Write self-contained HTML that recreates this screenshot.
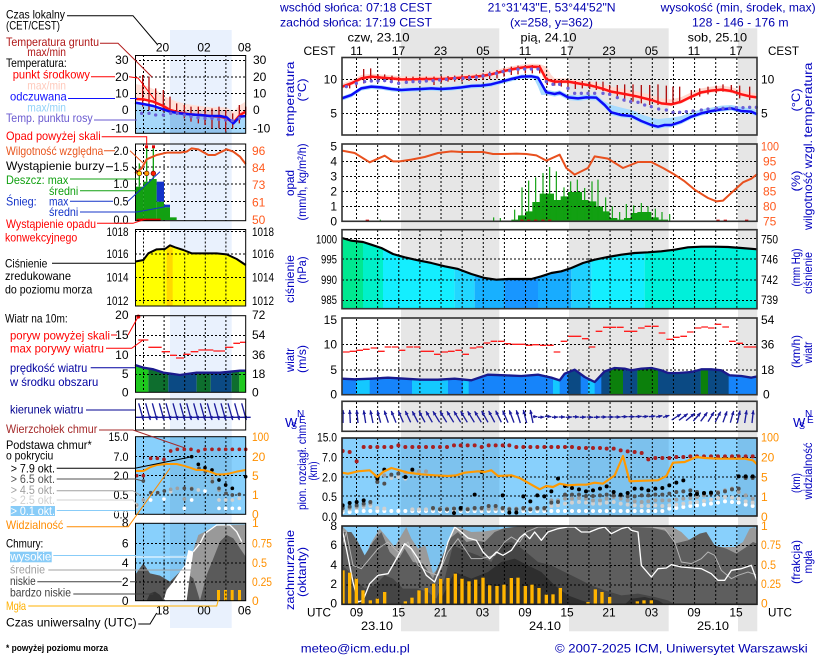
<!DOCTYPE html>
<html><head><meta charset="utf-8"><style>
html,body{margin:0;padding:0;background:#fff;}
svg{display:block;}
text{font-family:"Liberation Sans",Arial,sans-serif;}
</style></head><body>
<svg width="820" height="660" viewBox="0 0 820 660" xmlns="http://www.w3.org/2000/svg" font-size="12">
<defs>
<marker id="ah" markerUnits="userSpaceOnUse" markerWidth="13" markerHeight="13" refX="12" refY="6.5" orient="auto"><path d="M0,1 L13,6.5 L0,12 z" fill="#1c1c9c"/></marker>
<clipPath id="pclip"><path d="M12,300 L40,308 L75,312 L100,320 L130,330 L165,348 L200,358 L240,367 L280,375 L320,385 L360,393 L400,408 L440,420 L475,425 L510,423 L545,423 L580,423 L610,415 L640,405 L670,400 L700,390 L735,375 L770,365 L810,357 L850,350 L890,345 L930,343 L970,340 L1010,335 L1050,328 L1090,326 L1130,326 L1170,327 L1210,330 L1258,334 L1258,512 L12,512 Z"/></clipPath>
<clipPath id="wclip"><path d="M12,200 L50,202 L100,200 L150,197 L200,200 L250,203 L300,203 L350,200 L400,205 L450,188 L500,190 L550,192 L600,188 L640,197 L665,205 L680,185 L710,173 L740,195 L770,210 L800,178 L830,168 L860,170 L880,175 L910,170 L940,168 L970,175 L990,183 L1020,183 L1060,180 L1090,172 L1120,172 L1150,175 L1175,190 L1210,192 L1240,197 L1258,193 L1258,248 L12,248 Z"/></clipPath>
<clipPath id="lpclip"><path d="M405,125 L430,120 L445,100 L470,88 L495,87 L510,76 L525,82 L550,90 L575,100 L610,100 L650,100 L680,103 L710,117 L737,135 L737,258 L405,258 Z"/></clipPath>
<clipPath id="lwclip"><path d="M405,435 L430,443 L460,448 L490,458 L520,462 L540,465 L560,462 L590,458 L620,458 L660,458 L690,455 L720,452 L737,452 L737,517 L405,517 Z"/></clipPath>
<clipPath id="ccclip"><rect x="12" y="282" width="1246" height="235"/></clipPath>
<clipPath id="cbclip"><rect x="12" y="18" width="1246" height="234"/></clipPath>
</defs>
<rect width="820" height="660" fill="#fff"/>
<!-- night bands -->
<rect x="170" y="30" width="61.7" height="598" fill="#e9f1fd"/>
<g fill="#e6e6e6">
<rect x="401" y="28.3" width="98.3" height="603"/>
<rect x="569" y="28.3" width="99.7" height="603"/>
<rect x="738" y="28.3" width="19.3" height="603"/>
</g>

<!-- HEADER -->
<g fill="#0000b0">
<text x="280" y="11.7" textLength="152" lengthAdjust="spacingAndGlyphs">wschód słońca: 07:18 CEST</text>
<text x="280" y="26.7" textLength="152" lengthAdjust="spacingAndGlyphs">zachód słońca: 17:19 CEST</text>
<text x="487.6" y="11.7" textLength="128" lengthAdjust="spacingAndGlyphs">21°31'43"E, 53°44'52"N</text>
<text x="510" y="26.7" textLength="83" lengthAdjust="spacingAndGlyphs">(x=258,  y=362)</text>
<text x="660.6" y="11.7" textLength="155" lengthAdjust="spacingAndGlyphs">wysokość (min, środek, max)</text>
<text x="692" y="26.7" textLength="96.6" lengthAdjust="spacingAndGlyphs">128 - 146 - 176 m</text>
</g>
<g fill="#000">
<text x="347.5" y="41.7" textLength="62" lengthAdjust="spacingAndGlyphs">czw, 23.10</text>
<text x="520.5" y="41.7" textLength="56" lengthAdjust="spacingAndGlyphs">pią, 24.10</text>
<text x="687.6" y="41.7" textLength="59.5" lengthAdjust="spacingAndGlyphs">sob, 25.10</text>
<text x="303.5" y="55" textLength="32" lengthAdjust="spacingAndGlyphs">CEST</text>
<text x="768" y="55" textLength="31" lengthAdjust="spacingAndGlyphs">CEST</text>
<g text-anchor="middle">
<text x="356.5" y="55">11</text><text x="398.5" y="55">17</text><text x="440.5" y="55">23</text><text x="483" y="55">05</text><text x="525" y="55">11</text><text x="567" y="55">17</text><text x="609" y="55">23</text><text x="651.5" y="55">05</text><text x="694" y="55">11</text><text x="736" y="55">17</text>
</g>
</g>

<!-- ============ MAIN TEMPERATURE ============ -->
<g transform="translate(338,55) scale(0.33333)">
<path fill="#ffd9d0" d="M12,86 L40,76 L70,60 L100,56 L130,59 L160,61 L190,64 L220,64 L250,63 L280,63 L310,63 L340,61 L370,59 L400,57 L430,54 L460,49 L490,41 L520,34 L550,29 L580,26 L605,27 L625,35 L640,60 L650,70 L690,70 L720,75 L760,80 L790,88 L820,95 L860,102 L900,110 L940,120 L970,130 L1000,133 L1030,126 L1060,112 L1090,100 L1120,95 L1150,92 L1180,96 L1210,106 L1240,113 L1258,115 L1258,133 L1240,131 L1210,124 L1180,114 L1150,110 L1120,113 L1090,118 L1060,131 L1030,146 L1000,154 L970,151 L940,141 L900,131 L860,123 L820,116 L790,106 L760,98 L720,91 L690,86 L650,86 L620,80 L605,42 L580,41 L550,44 L520,49 L490,56 L460,64 L430,69 L400,72 L370,74 L340,76 L310,78 L280,78 L250,78 L220,79 L190,79 L160,76 L130,74 L100,71 L70,76 L40,91 L12,101 Z"/>
<path fill="#a8dcff" d="M12,124 L40,114 L70,94 L100,89 L130,91 L160,96 L190,99 L220,97 L250,96 L280,94 L310,96 L340,94 L370,91 L400,87 L430,86 L460,82 L490,74 L520,66 L550,59 L580,58 L600,62 L625,104 L650,109 L665,106 L690,119 L720,122 L745,119 L775,120 L800,140 L820,150 L850,158 L880,165 L910,178 L940,188 L960,192 L980,190 L1000,188 L1030,183 L1060,172 L1090,163 L1120,158 L1150,152 L1180,150 L1210,156 L1240,160 L1258,166 L1258,185 L1240,177 L1210,175 L1180,167 L1150,170 L1120,175 L1090,182 L1060,192 L1030,207 L1000,217 L980,217 L960,222 L940,217 L910,205 L880,190 L850,187 L820,180 L800,158 L775,136 L745,135 L720,138 L690,135 L665,121 L650,125 L625,120 L610,120 L600,95 L590,75 L580,71 L550,72 L520,79 L490,87 L460,95 L430,99 L400,100 L370,104 L340,107 L310,109 L280,107 L250,109 L220,110 L190,112 L160,109 L130,104 L100,102 L70,107 L40,127 L12,137 Z"/>
</g>
<g stroke="#000" stroke-width="1" stroke-dasharray="2,2" fill="none">
<path d="M356.5,58v77m21.13,-77v77m21.13,-77v77m21.13,-77v77m21.13,-77v77m21.13,-77v77m21.13,-77v77m21.13,-77v77m21.13,-77v77m21.13,-77v77m21.13,-77v77m21.13,-77v77m21.13,-77v77m21.13,-77v77m21.13,-77v77m21.13,-77v77m21.13,-77v77m21.13,-77v77m21.13,-77v77"/>
<path d="M342,79.5H757M342,113.5H757"/>
</g>
<g transform="translate(338,55) scale(0.33333)" fill="none">
<path stroke="#b01010" stroke-width="4" d="M35,85V100M55,75V95M77,42V85M98,40V80M120,58V80M140,58V80M162,62V80M182,65V80M205,65V82M225,65V82M245,65V80M265,65V80M288,65V90M310,63V82M330,63V80M350,62V80M372,60V80M393,60V78M415,58V78M435,55V75M455,50V72M477,45V70M498,40V65M520,35V60M540,32V58M562,30V55M583,30V55M605,30V55M628,68V90M650,72V92M670,75V95M690,75V100M712,78V102M733,78V100M755,80V102M775,80V105M795,80V108M815,90V115M838,90V130M860,88V140M885,88V140M910,90V145M935,90V150M960,88V150M985,92V150M1005,95V150M1025,95V145M1060,105V135M1085,100V125M1110,95V118M1135,92V115M1155,88V110M1180,90V112M1205,92V130M1235,95V135"/>
<path stroke="#ff1414" stroke-width="7.5" stroke-linejoin="round" d="M12,95 L40,85 L70,70 L100,65 L130,68 L160,70 L190,73 L220,73 L250,72 L280,72 L310,72 L340,70 L370,68 L400,66 L430,63 L460,58 L490,50 L520,43 L550,38 L580,35 L605,36 L625,73 L650,80 L690,80 L720,85 L760,92 L790,100 L820,110 L860,117 L900,125 L940,135 L970,145 L1000,148 L1030,140 L1060,125 L1090,112 L1120,107 L1150,104 L1180,108 L1210,118 L1240,125 L1258,127"/>
<path stroke="#0c0cf8" stroke-width="7.5" stroke-linejoin="round" d="M12,130 L40,120 L70,100 L100,95 L130,97 L160,102 L190,105 L220,103 L250,102 L280,100 L310,102 L340,100 L370,97 L400,93 L430,92 L460,88 L490,80 L520,72 L550,65 L580,64 L600,68 L625,112 L650,117 L665,113 L690,127 L720,130 L745,127 L775,128 L800,150 L820,172 L850,180 L880,183 L910,198 L940,210 L960,215 L980,210 L1000,210 L1030,200 L1060,185 L1090,175 L1120,168 L1150,163 L1180,160 L1210,168 L1240,170 L1258,178"/>
<path stroke="#6b5fd8" stroke-width="10" stroke-linecap="round" d="M25,95h0M55,85h0M80,80h0M100,78h0M120,78h0M140,77h0M160,80h0M182,85h0M205,82h0M225,80h0M245,80h0M265,78h0M285,77h0M305,75h0M325,73h0M350,70h0M375,70h0M395,68h0M415,67h0M435,63h0M455,58h0M475,55h0M495,50h0M515,47h0M540,43h0M560,42h0M580,42h0M600,42h0M625,80h0M645,88h0M665,88h0M690,100h0M710,115h0M730,115h0M750,115h0M770,115h0M795,115h0M815,118h0M838,128h0M858,135h0M878,140h0M900,142h0M920,150h0M940,155h0M962,162h0M985,165h0M1005,172h0M1025,172h0M1045,170h0M1065,168h0M1090,165h0M1110,162h0M1135,160h0M1155,160h0M1175,160h0M1195,158h0M1215,158h0M1235,157h0M1255,157h0"/>
</g>
<rect x="342" y="57.5" width="415" height="77.5" fill="none" stroke="#333" stroke-width="1.6"/>

<!-- ============ MAIN PRECIP ============ -->
<g transform="translate(338,138) scale(0.33333)">
<path fill="#12a012" d="M520,250 V245 H540 V232 H562 V220 H583 V192 H605 V167 H648 V186 H668 V175 H690 V162 H732 V186 H752 V190 H775 V205 H795 V220 H815 V240 H838 V245 H858 V240 H878 V225 H898 V222 H940 V238 H962 V245 H990 V250 Z"/>
</g>
<g stroke="#000" stroke-width="1" stroke-dasharray="2,2" fill="none">
<path d="M356.5,145v76m21.13,-76v76m21.13,-76v76m21.13,-76v76m21.13,-76v76m21.13,-76v76m21.13,-76v76m21.13,-76v76m21.13,-76v76m21.13,-76v76m21.13,-76v76m21.13,-76v76m21.13,-76v76m21.13,-76v76m21.13,-76v76m21.13,-76v76m21.13,-76v76m21.13,-76v76m21.13,-76v76"/>
<path d="M342,161.5H757M342,176.5H757M342,191.5H757M342,206.5H757"/>
</g>
<g transform="translate(338,138) scale(0.33333)" fill="none">
<path stroke="#10a010" stroke-width="3.5" d="M127,245V250M467,238V250M487,240V250M530,215V250M552,148V250M572,128V250M593,118V250M615,105V250M635,87V250M655,100V250M678,148V250M698,130V250M718,125V250M740,150V250M762,130V250M780,125V250M803,178V250M823,205V250M845,222V250M865,198V250M887,202V250M910,195V250M930,205V250M952,212V250M972,222V250M995,228V250"/>
<path stroke="#e8501e" stroke-width="6" stroke-linejoin="round" d="M12,38 L50,45 L95,73 L140,53 L165,70 L185,70 L220,65 L260,57 L300,45 L340,40 L370,42 L400,42 L435,42 L465,48 L500,48 L535,47 L565,48 L595,52 L625,68 L665,50 L685,90 L710,110 L750,90 L770,55 L810,62 L855,90 L900,72 L940,72 L975,90 L1010,110 L1040,130 L1070,155 L1110,180 L1135,190 L1155,188 L1185,160 L1215,133 L1240,122 L1258,108"/>
<g fill="#e00000"><rect x="83" y="245" width="10" height="7"/><rect x="547" y="245" width="10" height="7"/><rect x="567" y="245" width="10" height="7"/><rect x="588" y="245" width="10" height="7"/><rect x="610" y="245" width="10" height="7"/><rect x="630" y="245" width="10" height="7"/><rect x="1135" y="245" width="10" height="7"/><rect x="1157" y="245" width="10" height="7"/><rect x="1221" y="245" width="10" height="7"/></g>
</g>
<rect x="342" y="144" width="415" height="77.3" fill="none" stroke="#333" stroke-width="1.6"/>

<!-- ============ MAIN PRESSURE ============ -->
<g transform="translate(338,138) scale(0.33333)">
<g clip-path="url(#pclip)">
<rect x="12" y="280" width="63" height="240" fill="#00e890"/>
<rect x="75" y="280" width="60" height="240" fill="#00f0c8"/>
<rect x="135" y="280" width="215" height="240" fill="#14eeff"/>
<rect x="350" y="280" width="60" height="240" fill="#22d6ff"/>
<rect x="410" y="280" width="90" height="240" fill="#18b0ff"/>
<rect x="500" y="280" width="100" height="240" fill="#1896ff"/>
<rect x="600" y="280" width="100" height="240" fill="#18acff"/>
<rect x="700" y="280" width="60" height="240" fill="#20d0ff"/>
<rect x="760" y="280" width="160" height="240" fill="#14eeff"/>
<rect x="920" y="280" width="338" height="240" fill="#00f0da"/>
</g>
</g>
<g stroke="#000" stroke-width="1" stroke-dasharray="2,2" fill="none">
<path d="M356.5,230v78m21.13,-78v78m21.13,-78v78m21.13,-78v78m21.13,-78v78m21.13,-78v78m21.13,-78v78m21.13,-78v78m21.13,-78v78m21.13,-78v78m21.13,-78v78m21.13,-78v78m21.13,-78v78m21.13,-78v78m21.13,-78v78m21.13,-78v78m21.13,-78v78m21.13,-78v78m21.13,-78v78"/>
<path d="M342,238.5H757M342,259H757M342,280H757M342,300.5H757"/>
</g>
<g transform="translate(338,138) scale(0.33333)" fill="none">
<path stroke="#000" stroke-width="6.5" stroke-linejoin="round" d="M12,300 L40,308 L75,312 L100,320 L130,330 L165,348 L200,358 L240,367 L280,375 L320,385 L360,393 L400,408 L440,420 L475,425 L510,423 L545,423 L580,423 L610,415 L640,405 L670,400 L700,390 L735,375 L770,365 L810,357 L850,350 L890,345 L930,343 L970,340 L1010,335 L1050,328 L1090,326 L1130,326 L1170,327 L1210,330 L1258,334"/>
</g>
<rect x="342" y="229.7" width="415" height="79" fill="none" stroke="#333" stroke-width="1.6"/>

<!-- ============ MAIN WIND ============ -->
<g transform="translate(338,312) scale(0.33333)">
<g clip-path="url(#wclip)">
<rect x="12" y="150" width="1246" height="100" fill="#1684fa"/>
<g fill="#14c8ff"><rect x="55" y="150" width="40" height="100"/><rect x="222" y="150" width="108" height="100"/><rect x="375" y="150" width="17" height="100"/><rect x="645" y="150" width="20" height="100"/><rect x="750" y="150" width="20" height="100"/></g>
<g fill="#0b4a84"><rect x="690" y="150" width="38" height="100"/><rect x="790" y="150" width="25" height="100"/><rect x="855" y="150" width="43" height="100"/><rect x="960" y="150" width="128" height="100"/><rect x="1110" y="150" width="62" height="100"/></g>
<g fill="#0c800c"><rect x="815" y="150" width="40" height="100"/><rect x="898" y="150" width="62" height="100"/><rect x="1088" y="150" width="22" height="100"/></g>
</g>
</g>
<g stroke="#000" stroke-width="1" stroke-dasharray="2,2" fill="none">
<path d="M356.5,319v76m21.13,-76v76m21.13,-76v76m21.13,-76v76m21.13,-76v76m21.13,-76v76m21.13,-76v76m21.13,-76v76m21.13,-76v76m21.13,-76v76m21.13,-76v76m21.13,-76v76m21.13,-76v76m21.13,-76v76m21.13,-76v76m21.13,-76v76m21.13,-76v76m21.13,-76v76m21.13,-76v76"/>
<path d="M342,344.5H757M342,370H757"/>
</g>
<g transform="translate(338,312) scale(0.33333)" fill="none">
<path stroke="#1a1a8c" stroke-width="7" stroke-linejoin="round" d="M12,200 L50,202 L100,200 L150,197 L200,200 L250,203 L300,203 L350,200 L400,205 L450,188 L500,190 L550,192 L600,188 L640,197 L665,205 L680,185 L710,173 L740,195 L770,210 L800,178 L830,168 L860,170 L880,175 L910,170 L940,168 L970,175 L990,183 L1020,183 L1060,180 L1090,172 L1120,172 L1150,175 L1175,190 L1210,192 L1240,197 L1258,193"/>
<path stroke="#ff1e1e" stroke-width="4" d="M15,120h20M35,118h20M55,115h20M75,112h20M98,108h20M120,118h20M140,105h20M162,105h20M182,115h20M205,105h20M227,105h20M248,118h20M268,118h20M288,127h20M310,120h20M330,118h20M352,115h20M373,127h20M395,108h20M415,105h20M437,93h20M458,88h20M480,88h20M500,95h20M522,97h20M542,97h20M563,100h20M583,98h20M605,100h20M627,100h20M647,120h20M668,88h20M690,73h20M710,73h20M732,80h20M752,105h20M773,58h20M795,46h20M815,46h20M837,46h20M858,58h20M878,58h20M900,48h20M920,43h20M942,43h20M962,63h20M985,82h20M1005,76h20M1027,73h20M1047,60h20M1070,48h20M1090,45h20M1110,48h20M1130,37h20M1153,45h20M1173,88h20M1195,94h20M1217,105h20M1237,105h20"/>
</g>
<rect x="342" y="318" width="415" height="76.7" fill="none" stroke="#333" stroke-width="1.6"/>

<!-- ============ MAIN WIND DIRECTION ============ -->
<g stroke="#000" stroke-width="1" stroke-dasharray="2,2" fill="none">
<path d="M356.5,402v29m21.13,-29v29m21.13,-29v29m21.13,-29v29m21.13,-29v29m21.13,-29v29m21.13,-29v29m21.13,-29v29m21.13,-29v29m21.13,-29v29m21.13,-29v29m21.13,-29v29m21.13,-29v29m21.13,-29v29m21.13,-29v29m21.13,-29v29m21.13,-29v29m21.13,-29v29m21.13,-29v29"/>
</g>
<g transform="translate(338,312) scale(0.33333)" fill="none" stroke="#1c1c9c" stroke-width="4" marker-end="url(#ah)">
<path d="M15,333L15,294"/><path d="M37,333L35,294"/><path d="M60,333L56,294"/><path d="M83,333L77,295"/><path d="M105,333L97,295"/><path d="M128,332L118,296"/><path d="M151,332L139,296"/><path d="M174,332L160,297"/><path d="M196,331L181,297"/><path d="M218,331L202,297"/><path d="M240,331L223,298"/><path d="M261,331L243,298"/><path d="M283,331L264,298"/><path d="M305,331L285,298"/><path d="M326,331L306,298"/><path d="M347,331L327,298"/><path d="M368,331L348,298"/><path d="M388,331L368,298"/><path d="M409,331L389,298"/><path d="M430,331L410,298"/><path d="M450,331L431,297"/><path d="M470,331L452,297"/><path d="M490,331L473,296"/><path d="M510,332L494,296"/><path d="M528,332L514,295"/><path d="M547,333L535,295"/><path d="M566,333L556,294"/><path d="M585,333L577,294"/>
<path d="M585,314L598,314" /><path d="M600,316L619,315"/><path d="M621,313L640,314"/><path d="M642,316L660,315"/><path d="M662,315L681,315"/><path d="M683,316L702,315"/><path d="M704,314L723,315"/><path d="M725,316L744,315"/><path d="M746,315L765,316"/><path d="M767,316L786,315"/><path d="M788,315L806,315"/><path d="M808,315L827,315"/><path d="M829,315L848,315"/><path d="M850,314L869,314"/><path d="M871,314L890,314"/><path d="M892,314L911,313"/><path d="M913,314L931,313"/><path d="M933,314L952,312"/><path d="M954,315L973,311"/><path d="M975,316L994,310"/>
<path d="M1001,324L1029,306"/><path d="M1023,325L1049,305"/><path d="M1044,326L1070,304"/><path d="M1066,327L1088,302"/><path d="M1088,328L1108,301"/><path d="M1110,329L1128,300"/><path d="M1132,330L1148,299"/><path d="M1155,331L1167,298"/><path d="M1177,332L1187,297"/><path d="M1198,333L1206,296"/><path d="M1220,333L1226,295"/><path d="M1242,333L1246,295"/>
</g>
<rect x="342" y="401.3" width="415" height="30" fill="none" stroke="#333" stroke-width="1.6"/>

<!-- ============ MAIN CLOUD BASE ============ -->
<g transform="translate(338,432) scale(0.33333)">
<rect x="12" y="18" width="1246" height="234" fill="#88d0fc"/>
<g fill="#002050" opacity="0.08"><rect x="189" y="18" width="295" height="234"/><rect x="693" y="18" width="299" height="234"/><rect x="1200" y="18" width="58" height="234"/></g>
</g>
<g stroke="#000" stroke-width="1" stroke-dasharray="2,2" fill="none">
<path d="M356.5,438v78m21.13,-78v78m21.13,-78v78m21.13,-78v78m21.13,-78v78m21.13,-78v78m21.13,-78v78m21.13,-78v78m21.13,-78v78m21.13,-78v78m21.13,-78v78m21.13,-78v78m21.13,-78v78m21.13,-78v78m21.13,-78v78m21.13,-78v78m21.13,-78v78m21.13,-78v78m21.13,-78v78"/>
<path d="M342,457.5H757M342,477H757M342,496H757"/>
</g>
<g transform="translate(338,432) scale(0.33333)" fill="none" stroke-linecap="round" clip-path="url(#cbclip)">
<path stroke="#ffffff" stroke-width="12" d="M14,240h0M35,240h0M56,238h0M77,237h0M97,237h0M118,237h0M139,237h0M160,237h0M181,237h0M202,237h0M223,237h0M243,237h0M264,237h0M285,237h0M306,237h0M327,237h0M348,237h0M368,237h0M389,237h0M410,237h0M431,237h0M452,237h0M473,237h0M494,237h0M514,237h0M535,237h0M556,237h0M577,237h0M598,237h0M619,237h0M640,237h0M660,237h0M681,237h0M702,237h0M723,237h0M744,237h0M765,237h0M786,237h0M806,237h0M827,237h0M848,237h0M869,237h0M890,237h0M911,237h0M931,237h0M952,237h0M973,237h0M994,230h0M1015,228h0M1036,225h0M1057,222h0M1077,220h0M1098,218h0M1119,215h0M1140,212h0M1161,208h0M1182,210h0M1202,212h0M1223,218h0M1244,222h0"/>
<path stroke="#d0d0d0" stroke-width="12" d="M14,235h0M35,232h0M56,228h0M77,225h0M97,222h0M118,228h0M139,230h0M160,138h0M181,135h0M202,140h0M223,232h0M243,232h0M264,232h0M285,232h0M306,232h0M327,232h0M348,232h0M368,232h0M389,232h0M410,232h0M431,232h0M452,232h0M473,232h0M494,232h0M514,232h0M535,232h0M556,232h0M577,232h0M598,232h0M619,232h0M640,222h0M660,220h0M681,215h0M702,212h0M723,210h0M744,212h0M765,215h0M786,215h0M806,212h0M827,210h0M848,215h0M869,218h0M890,220h0M911,222h0M931,222h0M952,220h0M973,222h0M994,220h0M1015,218h0M1036,215h0M1057,212h0M1077,210h0M1098,207h0M1119,203h0M1140,198h0M1161,195h0M1182,197h0M1202,200h0M1223,208h0M1244,212h0"/>
<path stroke="#a0a0a0" stroke-width="12" d="M14,230h0M35,228h0M56,225h0M77,220h0M97,215h0M118,148h0M139,130h0M160,130h0M181,125h0M202,122h0M223,120h0M243,118h0M264,118h0M285,230h0M306,230h0M327,230h0M348,230h0M368,230h0M389,230h0M410,230h0M431,230h0M452,230h0M473,230h0M494,230h0M514,230h0M535,230h0M556,230h0M577,230h0M598,230h0M619,230h0M640,205h0M660,205h0M681,200h0M702,200h0M723,198h0M744,200h0M765,205h0M786,205h0M806,200h0M827,195h0M848,200h0M869,205h0M890,208h0M911,210h0M931,208h0M952,205h0M973,205h0M994,205h0M1015,203h0M1036,200h0M1057,198h0M1077,195h0M1098,190h0M1119,185h0M1140,180h0M1161,175h0M1182,170h0M1202,180h0M1223,190h0M1244,200h0"/>
<path stroke="#505050" stroke-width="12" d="M14,228h0M35,224h0M56,220h0M77,215h0M97,210h0M118,150h0M139,155h0M160,128h0M181,125h0M285,228h0M306,232h0M327,232h0M348,230h0M368,232h0M389,232h0M410,228h0M431,228h0M452,222h0M473,222h0M494,228h0M514,232h0M535,232h0M556,228h0M577,232h0M598,228h0M619,228h0M640,212h0M660,210h0M681,188h0M702,188h0M723,188h0M744,192h0M765,192h0M786,190h0M806,188h0M827,190h0M848,190h0M869,193h0M890,193h0M911,190h0M931,190h0M952,188h0M973,188h0M994,185h0M1015,180h0M1036,178h0M1057,175h0M1077,180h0M1098,185h0M1119,185h0M1140,183h0M1161,178h0M1182,172h0M1202,170h0M1223,138h0M1244,138h0"/>
<path stroke="#000" stroke-width="12" d="M14,220h0M35,213h0M56,210h0M77,205h0M118,140h0M139,113h0M202,135h0M223,113h0M348,243h0M368,228h0M410,188h0M431,120h0M494,190h0M514,242h0M535,242h0M556,193h0M577,208h0M598,190h0M619,193h0M640,178h0M660,140h0M681,162h0M702,168h0M723,172h0M744,178h0M765,175h0M786,170h0M806,163h0M827,180h0M848,188h0M869,183h0M890,170h0M911,170h0M931,175h0M952,170h0M973,168h0M994,160h0M1015,152h0M1036,145h0M1057,188h0M1077,186h0M1098,183h0M1119,182h0M1202,133h0M1223,133h0M1244,133h0"/>
<path stroke="#a82020" stroke-width="12" d="M14,57h0M35,60h0M56,88h0M77,45h0M97,45h0M118,45h0M139,45h0M160,45h0M181,40h0M202,45h0M223,45h0M243,45h0M264,45h0M285,45h0M306,45h0M327,45h0M348,40h0M368,40h0M389,40h0M410,40h0M431,45h0M452,40h0M473,40h0M494,40h0M514,40h0M535,45h0M556,45h0M577,45h0M598,45h0M619,45h0M640,45h0M660,45h0M681,45h0M702,45h0M723,48h0M744,48h0M765,48h0M786,48h0M806,50h0M827,50h0M848,55h0M869,58h0M890,60h0M911,63h0M931,82h0M952,78h0M973,78h0M994,78h0M1015,75h0M1036,75h0M1057,73h0M1077,73h0M1098,73h0M1119,73h0M1140,73h0M1161,73h0M1182,73h0M1202,73h0M1223,73h0M1244,73h0"/>
<path stroke="#ff9900" stroke-width="6.5" stroke-linecap="butt" stroke-linejoin="round" d="M12,122 L30,125 L60,118 L95,115 L118,135 L135,120 L160,108 L185,115 L210,122 L250,127 L290,130 L330,132 L355,130 L380,122 L420,118 L440,120 L460,115 L480,132 L520,130 L545,138 L575,155 L605,172 L625,162 L645,165 L665,155 L690,160 L720,158 L745,158 L770,152 L795,155 L830,130 L855,72 L875,148 L920,146 L960,145 L985,132 L1005,92 L1040,90 L1075,75 L1100,78 L1140,80 L1180,80 L1220,80 L1245,85 L1258,98"/>
</g>
<rect x="342" y="438" width="415" height="78" fill="none" stroke="#222" stroke-width="1.6"/>

<!-- ============ MAIN CLOUD COVER ============ -->
<g transform="translate(338,432) scale(0.33333)">
<rect x="12" y="282" width="1246" height="235" fill="#88d0fc"/>
<g fill="#002050" opacity="0.08"><rect x="189" y="282" width="295" height="235"/><rect x="693" y="282" width="299" height="235"/><rect x="1200" y="282" width="58" height="235"/></g>
<g clip-path="url(#ccclip)">
<path fill="#9a9a9a" d="M12,517 L12,282 L30,300 L55,360 L75,400 L95,340 L125,290 L150,320 L170,345 L190,310 L205,285 L220,320 L240,350 L262,340 L285,425 L300,410 L320,360 L345,290 L360,285 L400,300 L440,298 L480,292 L520,286 L560,284 L600,283 L1000,283 L1030,300 L1060,330 L1100,340 L1150,345 L1190,345 L1215,330 L1235,290 L1250,285 L1258,300 L1258,517 Z"/>
<path fill="#5e5e5e" d="M12,517 L12,300 L40,300 L60,330 L80,370 L105,330 L130,300 L155,360 L180,385 L200,350 L225,390 L255,395 L285,440 L310,380 L335,320 L360,300 L385,330 L410,325 L440,330 L470,300 L500,288 L540,284 L600,284 L900,284 L940,287 L980,296 L1000,310 L1010,335 L1050,325 L1085,305 L1105,300 L1130,340 L1165,350 L1195,365 L1225,345 L1245,330 L1258,335 L1258,517 Z"/>
<path fill="#454545" d="M12,517 L12,400 L35,420 L55,445 L80,470 L110,460 L140,430 L165,440 L195,470 L240,470 L270,480 L295,500 L320,440 L345,340 L380,355 L420,370 L460,390 L490,335 L520,330 L545,345 L570,365 L600,390 L640,400 L680,420 L720,440 L760,460 L800,475 L850,490 L900,485 L950,495 L990,505 L1010,517 Z"/>
<path fill="#2e2e2e" d="M300,517 L320,480 L350,420 L400,440 L450,420 L490,390 L530,380 L570,400 L610,420 L650,460 L690,490 L730,505 L770,517 Z M860,517 L880,500 L920,495 L960,505 L980,517 Z"/>
</g>
</g>
<g stroke="#000" stroke-width="1" stroke-dasharray="2,2" fill="none">
<path d="M356.5,526v78m21.13,-78v78m21.13,-78v78m21.13,-78v78m21.13,-78v78m21.13,-78v78m21.13,-78v78m21.13,-78v78m21.13,-78v78m21.13,-78v78m21.13,-78v78m21.13,-78v78m21.13,-78v78m21.13,-78v78m21.13,-78v78m21.13,-78v78m21.13,-78v78m21.13,-78v78m21.13,-78v78"/>
<path d="M342,545.5H757M342,565.5H757M342,585H757"/>
</g>
<g transform="translate(338,432) scale(0.33333)" fill="none">
<path stroke="#b4b4b4" stroke-width="3" d="M12,340 L25,300 L45,400 L70,410 L95,380 L120,350 L150,330 L180,360 L210,330 L240,400 L270,420 L300,430 L330,360 L360,320 L400,380 L430,380 L470,370 L500,330 L520,315 L545,330 L565,300 L600,285 L900,284 L940,285 L980,290 L1010,330 L1030,390 L1060,395 L1090,380 L1110,360 L1130,370 L1150,415 L1180,440 L1200,430 L1230,420 L1258,430"/>
<path stroke="#ffffff" stroke-width="4" stroke-linejoin="round" d="M12,290 L25,350 L45,450 L60,510 L75,505 L95,455 L120,430 L150,425 L170,390 L200,335 L220,350 L240,380 L265,430 L290,450 L310,400 L330,330 L350,285 L370,300 L390,318 L415,325 L435,360 L455,380 L475,360 L495,370 L520,355 L545,318 L560,305 L575,320 L590,300 L610,325 L630,300 L660,290 L690,285 L710,285 L730,300 L755,300 L780,290 L800,285 L820,305 L850,290 L870,285 L880,295 L900,300 L910,400 L940,435 L960,410 L985,408 L1000,398 L1030,405 L1065,408 L1090,410 L1120,425 L1140,445 L1160,445 L1180,415 L1210,410 L1240,400 L1258,450"/>
<g fill="#ffb400"><rect x="10" y="415" width="10" height="102"/><rect x="30" y="422" width="10" height="95"/><rect x="50" y="440" width="10" height="77"/><rect x="70" y="475" width="10" height="42"/><rect x="92" y="505" width="10" height="12"/><rect x="113" y="500" width="10" height="17"/><rect x="135" y="480" width="10" height="37"/><rect x="197" y="508" width="10" height="9"/><rect x="217" y="497" width="10" height="20"/><rect x="238" y="475" width="10" height="42"/><rect x="260" y="468" width="10" height="49"/><rect x="282" y="455" width="10" height="62"/><rect x="303" y="440" width="10" height="77"/><rect x="325" y="438" width="10" height="79"/><rect x="347" y="425" width="10" height="92"/><rect x="367" y="440" width="10" height="77"/><rect x="388" y="448" width="10" height="69"/><rect x="408" y="443" width="10" height="74"/><rect x="430" y="437" width="10" height="80"/><rect x="450" y="460" width="10" height="57"/><rect x="472" y="462" width="10" height="55"/><rect x="493" y="458" width="10" height="59"/><rect x="515" y="438" width="10" height="79"/><rect x="535" y="437" width="10" height="80"/><rect x="557" y="462" width="10" height="55"/><rect x="577" y="458" width="10" height="59"/><rect x="598" y="468" width="10" height="49"/><rect x="620" y="488" width="10" height="29"/><rect x="640" y="487" width="10" height="30"/><rect x="662" y="468" width="10" height="49"/><rect x="745" y="510" width="10" height="7"/><rect x="767" y="472" width="10" height="45"/><rect x="787" y="480" width="10" height="37"/><rect x="810" y="495" width="10" height="22"/><rect x="893" y="508" width="10" height="9"/><rect x="913" y="505" width="10" height="12"/><rect x="935" y="505" width="10" height="12"/></g>
</g>
<rect x="342" y="526" width="415" height="78.3" fill="none" stroke="#222" stroke-width="1.6"/>

<!-- MAIN TICK LABELS -->
<g font-size="12" text-anchor="end" fill="#000">
<text x="337" y="83.5">10</text><text x="337" y="117.5">5</text>
<text x="337" y="150.5">5</text><text x="337" y="165.5">4</text><text x="337" y="180.5">3</text><text x="337" y="195.5">2</text><text x="337" y="210.5">1</text><text x="337" y="225.5">0</text>
<text x="337" y="243.5" textLength="21" lengthAdjust="spacingAndGlyphs">1000</text><text x="337" y="263.5" textLength="16" lengthAdjust="spacingAndGlyphs">995</text><text x="337" y="284" textLength="16" lengthAdjust="spacingAndGlyphs">990</text><text x="337" y="304" textLength="16" lengthAdjust="spacingAndGlyphs">985</text>
<text x="337" y="324">15</text><text x="337" y="348.5">10</text><text x="337" y="374">5</text><text x="337" y="398.5">0</text>
<text x="337" y="441.5" textLength="20" lengthAdjust="spacingAndGlyphs">15.0</text><text x="337" y="461.5" textLength="15" lengthAdjust="spacingAndGlyphs">7.0</text><text x="337" y="481.5" textLength="15" lengthAdjust="spacingAndGlyphs">2.0</text><text x="337" y="501" textLength="15" lengthAdjust="spacingAndGlyphs">0.5</text><text x="337" y="521" textLength="15" lengthAdjust="spacingAndGlyphs">0.0</text>
<text x="337" y="530">8</text><text x="337" y="549">6</text><text x="337" y="569">4</text><text x="337" y="588">2</text><text x="337" y="607.5">0</text>
</g>
<g font-size="12" fill="#000">
<text x="761" y="83.5">10</text><text x="761" y="117.5">5</text>
<text x="761" y="243.5" textLength="17" lengthAdjust="spacingAndGlyphs">750</text><text x="761" y="263.5" textLength="17" lengthAdjust="spacingAndGlyphs">746</text><text x="761" y="284" textLength="17" lengthAdjust="spacingAndGlyphs">742</text><text x="761" y="304" textLength="17" lengthAdjust="spacingAndGlyphs">739</text>
<text x="761" y="324">54</text><text x="761" y="348.5">36</text><text x="761" y="374">18</text><text x="763" y="398.5">0</text>
</g>
<g font-size="12" fill="#ff5a1e">
<text x="761" y="150.5" textLength="18" lengthAdjust="spacingAndGlyphs">100</text><text x="763" y="165.5">95</text><text x="763" y="180.5">90</text><text x="763" y="195.5">85</text><text x="763" y="210.5">80</text><text x="763" y="225.5">75</text>
</g>
<g font-size="12" fill="#ff9000">
<text x="761" y="441.5" textLength="18" lengthAdjust="spacingAndGlyphs">100</text><text x="761" y="461.5">20</text><text x="761" y="481.5">5</text><text x="761" y="501">1</text><text x="761" y="521">0</text>
<text x="761" y="530">1</text><text x="761" y="549" textLength="20" lengthAdjust="spacingAndGlyphs">0.75</text><text x="761" y="569" textLength="15" lengthAdjust="spacingAndGlyphs">0.5</text><text x="761" y="588" textLength="20" lengthAdjust="spacingAndGlyphs">0.25</text><text x="761" y="607.5">0</text>
</g>

<!-- MAIN AXIS TITLES (rotated) -->
<g fill="#0000c0" font-size="12" text-anchor="middle">
<text transform="translate(294,99) rotate(-90)" textLength="75" lengthAdjust="spacingAndGlyphs">temperatura</text>
<text transform="translate(306,90) rotate(-90)" textLength="23" lengthAdjust="spacingAndGlyphs">(°C)</text>
<text transform="translate(800,100) rotate(-90)" textLength="23" lengthAdjust="spacingAndGlyphs">(°C)</text>
<text transform="translate(812,100) rotate(-90)" textLength="75" lengthAdjust="spacingAndGlyphs">temperatura</text>
<text transform="translate(294,183) rotate(-90)" textLength="26" lengthAdjust="spacingAndGlyphs">opad</text>
<text transform="translate(306,182) rotate(-90)" textLength="77" lengthAdjust="spacingAndGlyphs">(mm/h, kg/m²/h)</text>
<text transform="translate(800,181) rotate(-90)" textLength="21" lengthAdjust="spacingAndGlyphs">(%)</text>
<text transform="translate(812,185) rotate(-90)" textLength="90" lengthAdjust="spacingAndGlyphs">wilgotność wzgl.</text>
<text transform="translate(294,279) rotate(-90)" textLength="48" lengthAdjust="spacingAndGlyphs">ciśnienie</text>
<text transform="translate(306,270) rotate(-90)" textLength="27" lengthAdjust="spacingAndGlyphs">(hPa)</text>
<text transform="translate(800,267.5) rotate(-90)" textLength="38" lengthAdjust="spacingAndGlyphs">(mm Hg)</text>
<text transform="translate(812,273) rotate(-90)" textLength="42" lengthAdjust="spacingAndGlyphs">ciśnienie</text>
<text transform="translate(294,360) rotate(-90)" textLength="24" lengthAdjust="spacingAndGlyphs">wiatr</text>
<text transform="translate(306,359) rotate(-90)" textLength="28" lengthAdjust="spacingAndGlyphs">(m/s)</text>
<text transform="translate(800,351.5) rotate(-90)" textLength="33" lengthAdjust="spacingAndGlyphs">(km/h)</text>
<text transform="translate(812,352.5) rotate(-90)" textLength="22" lengthAdjust="spacingAndGlyphs">wiatr</text>
<text transform="translate(306,466) rotate(-90)" textLength="88" lengthAdjust="spacingAndGlyphs">pion. rozciągł. chm.</text>
<text transform="translate(317,471) rotate(-90)" textLength="19" lengthAdjust="spacingAndGlyphs">(km)</text>
<text transform="translate(800,483) rotate(-90)" textLength="20" lengthAdjust="spacingAndGlyphs">(km)</text>
<text transform="translate(812,471) rotate(-90)" textLength="57" lengthAdjust="spacingAndGlyphs">widzialność</text>
<text transform="translate(294,570) rotate(-90)" textLength="80" lengthAdjust="spacingAndGlyphs">zachmurzenie</text>
<text transform="translate(306,572) rotate(-90)" textLength="50" lengthAdjust="spacingAndGlyphs">(oktanty)</text>
<text transform="translate(800,562) rotate(-90)" textLength="44" lengthAdjust="spacingAndGlyphs">(frakcja)</text>
<text transform="translate(812,562) rotate(-90)" textLength="23" lengthAdjust="spacingAndGlyphs">mgła</text>
</g>
<!-- compass glyphs -->
<g fill="#0000c0">
<text x="285" y="427" font-size="13">W</text><text x="297" y="417" font-size="10">N</text><text x="291" y="429" font-size="9">S</text><text x="299" y="423" font-size="10">E</text>
<text x="793" y="427" font-size="13">W</text><text x="805" y="417" font-size="10">N</text><text x="799" y="429" font-size="9">S</text><text x="807" y="423" font-size="10">E</text>
</g>

<!-- BOTTOM UTC -->
<g fill="#000" font-size="12">
<text x="307" y="616.5" textLength="24" lengthAdjust="spacingAndGlyphs">UTC</text>
<text x="768" y="616.5" textLength="24" lengthAdjust="spacingAndGlyphs">UTC</text>
<g text-anchor="middle">
<text x="356.5" y="616.5">09</text><text x="398.5" y="616.5">15</text><text x="440.5" y="616.5">21</text><text x="482.5" y="616.5">03</text><text x="525" y="616.5">09</text><text x="567" y="616.5">15</text><text x="609" y="616.5">21</text><text x="651.5" y="616.5">03</text><text x="694" y="616.5">09</text><text x="736" y="616.5">15</text>
<text x="377" y="630" textLength="32" lengthAdjust="spacingAndGlyphs">23.10</text><text x="545" y="630" textLength="32" lengthAdjust="spacingAndGlyphs">24.10</text><text x="713" y="630" textLength="32" lengthAdjust="spacingAndGlyphs">25.10</text>
</g>
</g>
<!-- FOOTER -->
<g fill="#0000b0" font-size="12">
<text x="300.8" y="652.5" textLength="109" lengthAdjust="spacingAndGlyphs">meteo@icm.edu.pl</text>
<text x="555" y="652.5" textLength="252.7" lengthAdjust="spacingAndGlyphs">© 2007-2025 ICM, Uniwersytet Warszawski</text>
</g>

<!-- ================= LEFT LEGEND PANELS ================= -->
<!-- left temp -->
<g transform="scale(0.33333)">
<path fill="#ffe0d8" d="M405,252 L440,258 L470,272 L500,292 L530,305 L560,312 L600,318 L640,322 L680,322 L700,335 L720,315 L737,305 L737,335 L720,345 L700,368 L680,355 L640,348 L600,345 L560,342 L520,335 L490,318 L460,305 L430,298 L405,297 Z"/>
<path fill="#a6d8fa" d="M405,310 L430,314 L460,320 L490,330 L510,337 L540,342 L570,345 L600,347 L630,350 L660,350 L680,354 L700,372 L720,352 L737,350 L737,400 L405,400 Z"/>
<rect x="510" y="330" width="185" height="70" fill="#1a4aa0" opacity="0.14"/>
</g>
<g stroke="#000" stroke-width="1" stroke-dasharray="2,2" fill="none">
<path d="M143.5,55v78m20.6,-78v78m20.6,-78v78m20.6,-78v78m20.6,-78v78"/>
<path d="M135,60.5H246M135,77H246M135,93.5H246M135,110.5H246M135,128.5H246"/>
</g>
<g transform="scale(0.33333)" fill="none">
<path stroke="#b01010" stroke-width="4" d="M428,225V320M447,230V330M467,265V330M490,270V335M510,290V340M530,310V345M553,315V355M573,320V365M595,320V370M615,325V375M636,325V385M657,320V385M677,330V395M698,340V385M718,315V370M737,320V345"/>
<path stroke="#ff1414" stroke-width="7.5" stroke-linejoin="round" d="M405,297 L430,298 L460,305 L490,318 L510,330 L540,338 L570,343 L600,345 L630,348 L660,350 L680,355 L700,368 L720,345 L737,335"/>
<path stroke="#0c0cf8" stroke-width="7.5" stroke-linejoin="round" d="M405,308 L430,312 L460,318 L490,328 L510,335 L540,340 L570,343 L600,345 L630,348 L660,348 L680,352 L700,370 L720,350 L737,348"/>
<path stroke="#6b5fd8" stroke-width="10" stroke-linecap="round" d="M425,340h0M447,340h0M467,345h0M490,345h0M512,340h0M532,340h0M553,345h0M573,350h0M594,353h0M615,355h0M636,355h0M656,358h0M677,360h0M697,362h0M718,355h0"/>
</g>
<rect x="135.5" y="55.5" width="110.2" height="77.8" fill="none" stroke="#000" stroke-width="1"/>

<!-- left precip -->
<g stroke="#000" stroke-width="1" stroke-dasharray="2,2" fill="none">
<path d="M143.5,144v77m20.6,-77v77m20.6,-77v77m20.6,-77v77m20.6,-77v77"/>
<path d="M135,150.5H246M135,167H246M135,184H246M135,201.5H246"/>
</g>
<g transform="scale(0.33333)">
<g fill="#12a012"><rect x="405" y="560" width="25" height="100"/><rect x="430" y="545" width="40" height="115"/><rect x="470" y="605" width="22" height="55"/><rect x="492" y="622" width="18" height="38"/><rect x="510" y="652" width="20" height="8"/><rect x="447" y="537" width="23" height="10"/></g>
<g fill="#1434c8"><rect x="470" y="545" width="22" height="60"/><rect x="492" y="614" width="18" height="8"/></g>
<path fill="none" stroke="#10a010" stroke-width="4" d="M418,490V560M440,445V545M460,445V540"/>
<path fill="none" stroke="#e8501e" stroke-width="6" stroke-linejoin="round" d="M405,520 L425,505 L440,478 L470,465 L500,458 L540,458 L560,455 L575,445 L595,448 L625,465 L645,465 L665,455 L680,448 L700,455 L720,470 L737,492"/>
<g stroke="#600" stroke-width="2"><circle cx="418" cy="520" r="7" fill="#ffe600"/><circle cx="440" cy="520" r="7" fill="#ffa000"/><circle cx="460" cy="520" r="7" fill="#ff2000"/></g>
<g fill="#e00000"><rect x="435" y="436" width="9" height="9"/><rect x="456" y="436" width="9" height="9"/><rect x="410" y="656" width="72" height="6"/></g>
</g>
<rect x="135.5" y="144" width="110.2" height="76.7" fill="none" stroke="#000" stroke-width="1"/>

<!-- left pressure -->
<g transform="translate(0,220) scale(0.33333)">
<g clip-path="url(#lpclip)"><rect x="405" y="60" width="332" height="200" fill="#ffff00"/><rect x="500" y="60" width="18" height="200" fill="#ffd800"/></g>
</g>
<g stroke="#000" stroke-width="1" stroke-dasharray="2,2" fill="none">
<path d="M143.5,229.5v77m20.6,-77v77m20.6,-77v77m20.6,-77v77m20.6,-77v77"/>
<path d="M135,231.5H246M135,254H246M135,277.5H246M135,300.5H246"/>
</g>
<g transform="translate(0,220) scale(0.33333)"><path fill="none" stroke="#000" stroke-width="6" stroke-linejoin="round" d="M405,125 L430,120 L445,100 L470,88 L495,87 L510,76 L525,82 L550,90 L575,100 L610,100 L650,100 L680,103 L710,117 L737,135"/></g>
<rect x="135.5" y="229.5" width="110.2" height="76.5" fill="none" stroke="#000" stroke-width="1"/>

<!-- left wind -->
<g transform="translate(0,220) scale(0.33333)">
<g clip-path="url(#lwclip)">
<rect x="405" y="420" width="40" height="100" fill="#1ec81e"/><rect x="445" y="420" width="60" height="100" fill="#0e6e2e"/><rect x="505" y="420" width="85" height="100" fill="#0b4a84"/><rect x="590" y="420" width="42" height="100" fill="#0e6e2e"/><rect x="632" y="420" width="63" height="100" fill="#0b4a84"/><rect x="695" y="420" width="23" height="100" fill="#0e6e2e"/><rect x="718" y="420" width="19" height="100" fill="#1ec81e"/>
</g>
</g>
<g stroke="#000" stroke-width="1" stroke-dasharray="2,2" fill="none">
<path d="M143.5,316v76m20.6,-76v76m20.6,-76v76m20.6,-76v76m20.6,-76v76"/>
<path d="M135,335.5H246M135,355.5H246M135,374.5H246"/>
</g>
<g transform="translate(0,220) scale(0.33333)" fill="none">
<path stroke="#1a1a8c" stroke-width="7" stroke-linejoin="round" d="M405,435 L430,443 L460,448 L490,458 L520,462 L540,465 L560,462 L590,458 L620,458 L660,458 L690,455 L720,452 L737,452"/>
<path stroke="#ff1e1e" stroke-width="4" d="M415,360H445M445,382H485M485,395H510M510,406H530M528,414H552M550,403H572M572,395H595M595,390H620M620,390H640M640,393H675M675,382H700M700,370H720M720,367H737"/>
<circle cx="415" cy="290" r="6" fill="#e00000"/>
</g>
<rect x="135.5" y="315.7" width="110.2" height="76.6" fill="none" stroke="#000" stroke-width="1"/>

<!-- left wind dir -->
<g stroke="#000" stroke-width="1" stroke-dasharray="2,2" fill="none">
<path d="M143.5,399v31m20.6,-31v31m20.6,-31v31m20.6,-31v31m20.6,-31v31"/>
</g>
<g transform="translate(0,220) scale(0.33333)" fill="none" stroke="#1c1c9c" stroke-width="4">
<path d="M405,592H752"/>
<g marker-end="url(#ah)"><path d="M416,550L430,600"/><path d="M437,550L451,600"/><path d="M457,550L471,600"/><path d="M478,550L492,600"/><path d="M498,550L512,600"/><path d="M519,550L533,600"/><path d="M540,550L554,600"/><path d="M560,550L574,600"/><path d="M581,550L595,600"/><path d="M601,550L615,600"/><path d="M622,550L636,600"/><path d="M643,550L657,600"/><path d="M663,550L677,600"/><path d="M684,550L698,600"/><path d="M704,550L718,600"/><path d="M725,550L739,600"/></g>
</g>
<rect x="135.5" y="399" width="110.2" height="31" fill="none" stroke="#000" stroke-width="1"/>

<!-- left cloud base -->
<g transform="translate(0,425) scale(0.33333)">
<rect x="405" y="35" width="332" height="233" fill="#88d0fc"/>
<rect x="510" y="35" width="185" height="233" fill="#002050" opacity="0.08"/>
</g>
<g stroke="#000" stroke-width="1" stroke-dasharray="2,2" fill="none">
<path d="M143.5,437v77m20.6,-77v77m20.6,-77v77m20.6,-77v77m20.6,-77v77"/>
<path d="M135,456.5H246M135,475.5H246M135,495H246"/>
</g>
<g transform="translate(0,425) scale(0.33333)" fill="none" stroke-linecap="round">
<path stroke="#fff" stroke-width="11" d="M430,225h0M452,225h0M492,222h0M553,250h0M575,225h0M615,198h0M657,250h0M677,250h0M697,250h0M718,250h0"/>
<path stroke="#d0d0d0" stroke-width="11" d="M410,245h0M512,200h0M595,195h0M657,225h0M677,225h0M697,225h0M718,220h0"/>
<path stroke="#a0a0a0" stroke-width="11" d="M410,240h0M430,225h0M512,193h0M532,190h0M553,222h0M575,190h0M637,160h0M657,195h0"/>
<path stroke="#505050" stroke-width="11" d="M430,168h0M452,203h0M473,203h0M493,198h0M553,190h0M575,192h0M597,130h0M616,140h0M637,170h0M657,190h0M678,205h0M697,210h0M718,208h0"/>
<path stroke="#000" stroke-width="11" d="M575,95h0M595,118h0M615,128h0M636,135h0M657,165h0M677,180h0M697,190h0M737,155h0"/>
<path stroke="#a82020" stroke-width="11" d="M410,152h0M430,152h0M452,100h0M472,100h0M492,103h0M512,78h0M532,73h0M553,73h0M573,73h0M595,78h0M615,73h0M636,73h0M657,73h0M677,73h0M697,73h0M718,73h0M737,73h0"/>
<path stroke="#ff9900" stroke-width="6" stroke-linecap="butt" stroke-linejoin="round" d="M405,138 L430,138 L450,127 L470,120 L500,117 L530,117 L550,122 L570,128 L590,135 L610,135 L630,140 L650,148 L670,148 L690,145 L710,140 L737,135"/>
</g>
<rect x="135.5" y="436.7" width="110.2" height="77.6" fill="none" stroke="#000" stroke-width="1"/>

<!-- left cloud cover -->
<g transform="translate(0,425) scale(0.33333)">
<rect x="405" y="295" width="332" height="232" fill="#88d0fc"/>
<rect x="510" y="295" width="185" height="232" fill="#002050" opacity="0.06"/>
<path fill="#999" d="M555,527 L565,420 L580,375 L595,330 L615,320 L640,305 L665,300 L737,298 L737,527 Z"/>
<path fill="#5a5a5a" d="M600,527 L620,450 L640,400 L660,350 L680,330 L700,340 L720,370 L737,395 L737,527 Z"/>
<path fill="#555" d="M405,527 L405,450 L430,415 L450,445 L480,452 L510,470 L540,440 L560,445 L580,460 L600,527 Z"/>
<path fill="#fff" d="M490,527 L500,495 L520,470 L540,440 L555,420 L565,375 L580,380 L570,450 L560,527 Z"/>
<path fill="#333" d="M440,527 L450,505 L465,500 L480,510 L490,527 Z"/>
<path fill="none" stroke="#fff" stroke-width="4" d="M580,380 L600,355 L615,325 L650,300 L690,300 L710,320 L725,350"/>
<g fill="#ffb400"><rect x="651" y="495" width="9" height="32"/><rect x="672" y="495" width="9" height="32"/><rect x="692" y="495" width="9" height="32"/><rect x="714" y="495" width="9" height="32"/></g>
</g>
<g stroke="#000" stroke-width="1" stroke-dasharray="2,2" fill="none">
<path d="M143.5,523.5v77m20.6,-77v77m20.6,-77v77m20.6,-77v77m20.6,-77v77"/>
<path d="M135,543.5H246M135,563H246M135,582H246"/>
</g>
<rect x="135.5" y="523.3" width="110.2" height="77.4" fill="none" stroke="#000" stroke-width="1"/>

<!-- LEFT TICK LABELS -->
<g font-size="12" text-anchor="end" fill="#000">
<text x="128.5" y="64.2">30</text><text x="128.5" y="80.9">20</text><text x="128.5" y="97.5">10</text><text x="128.5" y="114.2">0</text><text x="128.5" y="132.5">-10</text>
<text x="128.5" y="154.9" textLength="15" lengthAdjust="spacingAndGlyphs">2.0</text><text x="128.5" y="170.9" textLength="15" lengthAdjust="spacingAndGlyphs">1.5</text><text x="128.5" y="188.2" textLength="15" lengthAdjust="spacingAndGlyphs">1.0</text><text x="128.5" y="205.5" textLength="15" lengthAdjust="spacingAndGlyphs">0.5</text><text x="128.5" y="224" textLength="15" lengthAdjust="spacingAndGlyphs">0.0</text>
<text x="128.5" y="235.9" textLength="22" lengthAdjust="spacingAndGlyphs">1018</text><text x="128.5" y="258.2" textLength="22" lengthAdjust="spacingAndGlyphs">1016</text><text x="128.5" y="281.5" textLength="22" lengthAdjust="spacingAndGlyphs">1014</text><text x="128.5" y="304.9" textLength="22" lengthAdjust="spacingAndGlyphs">1012</text>
<text x="128.5" y="319.2">20</text><text x="128.5" y="339.2">15</text><text x="128.5" y="359.2">10</text><text x="128.5" y="378.2">5</text><text x="128.5" y="396.5">0</text>
<text x="128.5" y="440.9" textLength="20" lengthAdjust="spacingAndGlyphs">15.0</text><text x="128.5" y="460.9" textLength="15" lengthAdjust="spacingAndGlyphs">7.0</text><text x="128.5" y="479.9" textLength="15" lengthAdjust="spacingAndGlyphs">2.0</text><text x="128.5" y="499.2" textLength="15" lengthAdjust="spacingAndGlyphs">0.5</text><text x="128.5" y="518.5" textLength="15" lengthAdjust="spacingAndGlyphs">0.0</text>
<text x="128.5" y="526.9">8</text><text x="128.5" y="547.5">6</text><text x="128.5" y="566.9">4</text><text x="128.5" y="585.9">2</text><text x="128.5" y="604.9">0</text>
</g>
<g font-size="12" fill="#000">
<text x="253" y="64.2">30</text><text x="253" y="80.9">20</text><text x="253" y="97.5">10</text><text x="253" y="114.2">0</text><text x="253" y="132.5">-10</text>
<text x="252" y="235.9" textLength="22" lengthAdjust="spacingAndGlyphs">1018</text><text x="252" y="258.2" textLength="22" lengthAdjust="spacingAndGlyphs">1016</text><text x="252" y="281.5" textLength="22" lengthAdjust="spacingAndGlyphs">1014</text><text x="252" y="304.9" textLength="22" lengthAdjust="spacingAndGlyphs">1012</text>
<text x="252" y="319.2">72</text><text x="252" y="339.2">54</text><text x="252" y="359.2">36</text><text x="252" y="378.2">18</text><text x="252" y="396.5">0</text>
</g>
<g font-size="12" fill="#ff5a1e">
<text x="252" y="154.9">96</text><text x="252" y="171.9">84</text><text x="252" y="189.2">73</text><text x="252" y="206.5">61</text><text x="252" y="224.2">50</text>
</g>
<g font-size="12" fill="#ff9000">
<text x="252" y="440.9" textLength="17" lengthAdjust="spacingAndGlyphs">100</text><text x="252" y="460.9">20</text><text x="252" y="479.9">5</text><text x="252" y="499.2">1</text><text x="252" y="518.5">0</text>
<text x="252" y="526.9">1</text><text x="252" y="547.5" textLength="20" lengthAdjust="spacingAndGlyphs">0.75</text><text x="252" y="566.9" textLength="15" lengthAdjust="spacingAndGlyphs">0.5</text><text x="252" y="585.9" textLength="20" lengthAdjust="spacingAndGlyphs">0.25</text><text x="252" y="604.9">0</text>
</g>
<g font-size="12" fill="#000" text-anchor="middle">
<text x="162.5" y="51.5">20</text><text x="204" y="51.5">02</text><text x="244.5" y="51.5">08</text>
<text x="162.5" y="614.7">18</text><text x="204" y="614.7">00</text><text x="244.5" y="614.7">06</text>
</g>

<!-- LEFT LEGEND TEXTS -->
<g font-size="12">
<text x="6" y="18.5" fill="#000" textLength="59" lengthAdjust="spacingAndGlyphs">Czas lokalny</text>
<text x="6" y="29.5" fill="#000" textLength="54" lengthAdjust="spacingAndGlyphs">(CET/CEST)</text>
<text x="6" y="46" fill="#b01818" textLength="93" lengthAdjust="spacingAndGlyphs">Temperatura gruntu</text>
<text x="27.3" y="56" fill="#b01818" textLength="38.7" lengthAdjust="spacingAndGlyphs">max/min</text>
<text x="6" y="67" fill="#000" textLength="60.7" lengthAdjust="spacingAndGlyphs">Temperatura:</text>
<text x="12.7" y="78.3" fill="#ff0000" textLength="77.3" lengthAdjust="spacingAndGlyphs">punkt środkowy</text>
<text x="27.3" y="89.3" fill="#ffcabc" textLength="38.7" lengthAdjust="spacingAndGlyphs">max/min</text>
<text x="10" y="100.5" fill="#1010ff" textLength="56.7" lengthAdjust="spacingAndGlyphs">odczuwana</text>
<text x="27.3" y="111.3" fill="#92d2f8" textLength="38.7" lengthAdjust="spacingAndGlyphs">max/min</text>
<text x="6" y="122" fill="#6a5ad0" textLength="86.7" lengthAdjust="spacingAndGlyphs">Temp. punktu rosy</text>
<text x="6" y="140" fill="#ff0000" textLength="94.7" lengthAdjust="spacingAndGlyphs">Opad powyżej skali</text>
<text x="6" y="155" fill="#e8541c" textLength="97.3" lengthAdjust="spacingAndGlyphs">Wilgotność względna</text>
<text x="6" y="170" fill="#000" textLength="98.3" lengthAdjust="spacingAndGlyphs">Wystąpienie burzy</text>
<text x="6" y="184" fill="#10a010" textLength="62.3" lengthAdjust="spacingAndGlyphs">Deszcz: max</text>
<text x="49" y="195" fill="#10a010" textLength="29.3" lengthAdjust="spacingAndGlyphs">średni</text>
<text x="6" y="205.5" fill="#1434c8" textLength="30.7" lengthAdjust="spacingAndGlyphs">Śnieg:</text>
<text x="49" y="205.5" fill="#1434c8" textLength="19.3" lengthAdjust="spacingAndGlyphs">max</text>
<text x="49" y="216" fill="#1434c8" textLength="29.3" lengthAdjust="spacingAndGlyphs">średni</text>
<text x="6" y="228" fill="#ff0000" textLength="90" lengthAdjust="spacingAndGlyphs">Wystąpienie opadu</text>
<text x="5" y="241.7" fill="#ff0000" textLength="72.3" lengthAdjust="spacingAndGlyphs">konwekcyjnego</text>
<text x="5" y="267.5" fill="#000" textLength="42.3" lengthAdjust="spacingAndGlyphs">Ciśnienie</text>
<text x="5" y="280" fill="#000" textLength="66" lengthAdjust="spacingAndGlyphs">zredukowane</text>
<text x="5" y="293.5" fill="#000" textLength="87.3" lengthAdjust="spacingAndGlyphs">do poziomu morza</text>
<text x="5" y="322.5" fill="#000" textLength="62.7" lengthAdjust="spacingAndGlyphs">Wiatr na 10m:</text>
<text x="10" y="339.3" fill="#ff0000" textLength="100" lengthAdjust="spacingAndGlyphs">poryw powyżej skali</text>
<text x="10" y="352.5" fill="#ff0000" textLength="94" lengthAdjust="spacingAndGlyphs">max porywy wiatru</text>
<text x="10" y="372" fill="#0000a0" textLength="77.3" lengthAdjust="spacingAndGlyphs">prędkość wiatru</text>
<text x="10" y="386" fill="#0000a0" textLength="88.3" lengthAdjust="spacingAndGlyphs">w środku obszaru</text>
<text x="10" y="413.5" fill="#000090" textLength="73.3" lengthAdjust="spacingAndGlyphs">kierunek wiatru</text>
<text x="6" y="433" fill="#a52a2a" textLength="91.3" lengthAdjust="spacingAndGlyphs">Wierzchołek chmur</text>
<text x="6" y="449" fill="#000" textLength="85.7" lengthAdjust="spacingAndGlyphs">Podstawa chmur*</text>
<text x="6" y="459.7" fill="#000" textLength="47.3" lengthAdjust="spacingAndGlyphs">o pokryciu</text>
<text x="10.7" y="472.3" fill="#000" textLength="44.3" lengthAdjust="spacingAndGlyphs">&gt; 7.9 okt.</text>
<text x="10.7" y="483" fill="#505050" textLength="44.3" lengthAdjust="spacingAndGlyphs">&gt; 6.5 okt.</text>
<text x="10.7" y="494" fill="#a0a0a0" textLength="44.3" lengthAdjust="spacingAndGlyphs">&gt; 4.5 okt.</text>
<text x="10.7" y="504" fill="#d0d0d0" textLength="44.3" lengthAdjust="spacingAndGlyphs">&gt; 2.5 okt.</text>
<rect x="10.7" y="506" width="44.3" height="10" fill="#88ccf8"/>
<text x="10.7" y="515" fill="#fff" textLength="44.3" lengthAdjust="spacingAndGlyphs">&gt; 0.1 okt.</text>
<text x="6" y="529" fill="#ff8c00" textLength="57.3" lengthAdjust="spacingAndGlyphs">Widzialność</text>
<text x="6" y="547.3" fill="#000" textLength="37.3" lengthAdjust="spacingAndGlyphs">Chmury:</text>
<rect x="10" y="551.7" width="41.7" height="10.6" fill="#88ccf8"/>
<text x="10.3" y="560.7" fill="#fff" textLength="41" lengthAdjust="spacingAndGlyphs">wysokie</text>
<text x="10" y="573.3" fill="#a0a0a0" textLength="35" lengthAdjust="spacingAndGlyphs">średnie</text>
<text x="10" y="585" fill="#404040" textLength="25.7" lengthAdjust="spacingAndGlyphs">niskie</text>
<text x="10" y="596.7" fill="#404040" textLength="61" lengthAdjust="spacingAndGlyphs">bardzo niskie</text>
<text x="6" y="610" fill="#ffb000" textLength="20" lengthAdjust="spacingAndGlyphs">Mgła</text>
<text x="6" y="626.5" fill="#000" textLength="130.7" lengthAdjust="spacingAndGlyphs">Czas uniwersalny (UTC)</text>
<text x="6" y="651" fill="#000" font-size="9" font-weight="bold" textLength="102" lengthAdjust="spacingAndGlyphs">* powyżej poziomu morza</text>
</g>

<!-- LEADER LINES -->
<g fill="none" stroke-width="1">
<path stroke="#000" d="M67,15.7H133L157,44"/>
<path stroke="#b01818" d="M100,43.3H118L152,77"/>
<path stroke="#ff0000" d="M91,76.7H115M129,76.7L138,78L155,100"/>
<path stroke="#1010ff" d="M68,98.5H115M130,98.5H137"/>
<path stroke="#6a5ad0" d="M94,120H137"/>
<path stroke="#ff0000" d="M101.7,136.7H146.7V145"/>
<path stroke="#e8541c" d="M104,150.7H115M130,150.7L143,163"/>
<path stroke="#000" d="M106,166.7H113M132,166.7L138,172"/>
<path stroke="#10a010" d="M70,179H140M80,190.7H143"/>
<path stroke="#1434c8" d="M70,201.3H113M128,201.3L160,171.7M80,212H137L165,206.7"/>
<path stroke="#ff0000" d="M97,223.3H133L146,219"/>
<path stroke="#000" d="M52,263.3H135"/>
<path stroke="#ff0000" d="M111,335H117M128,335L138,317M106,348.3H131.7L143,340"/>
<path stroke="#0000a0" d="M90.7,367.7H135"/>
<path stroke="#000090" d="M86,410H135"/>
<path stroke="#a52a2a" d="M99,430H133L185,448"/>
<path stroke="#000" d="M56.7,468.3H135L191.7,456.7"/>
<path stroke="#505050" d="M56.7,479H135L143,481"/>
<path stroke="#a0a0a0" d="M56.7,490.7H133L140,495"/>
<path stroke="#d0d0d0" d="M56.7,500H133L137,505"/>
<path stroke="#88ccf8" d="M56.7,510.5H135"/>
<path stroke="#fff" d="M56.7,512H135"/>
<path stroke="#ff8c00" d="M66.7,526.7H128.3L170,468.3"/>
<path stroke="#88ccf8" d="M53.3,555.5H186.7"/>
<path stroke="#fff" d="M53.3,557H186.7"/>
<path stroke="#a0a0a0" d="M48.3,570H193.3"/>
<path stroke="#404040" d="M37.3,581.7H121.7M130,581.7H136"/>
<path stroke="#404040" d="M73.3,594H153.3"/>
<path stroke="#ffb000" d="M28.3,606H216.7L218.3,600"/>
<path stroke="#000" d="M138.3,624H150L156.7,613"/>
</g>
</svg>
</body></html>
